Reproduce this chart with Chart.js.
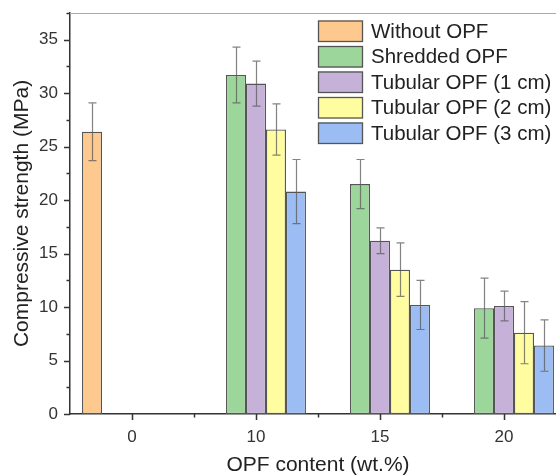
<!DOCTYPE html>
<html>
<head>
<meta charset="utf-8">
<script src="https://cdn.jsdelivr.net/npm/chart.js@4/dist/chart.umd.min.js"></script>
<style>
  html, body { margin: 0; padding: 0; background: #fff; overflow: hidden; }
  #wrap { width: 572px; height: 475px; }
</style>
</head>
<body>
<div id="wrap"><canvas id="chart" width="572" height="475"></canvas></div>
<script>
// OPF content categories
const categories = ['0', '10', '15', '20']

// compressive strength (MPa)
const withoutOPF = [26.4, null, null, null]
const shreddedOPF = [null, 31.7, 21.5, 9.9]
const tubular1cm = [null, 30.9, 16.2, 10.1]
const tubular2cm = [null, 26.6, 13.5, 7.6]
const tubular3cm = [null, 20.8, 10.2, 6.4]

// error bar half-lengths
const withoutOPFErr = [2.7, null, null, null]
const shreddedOPFErr = [null, 2.6, 2.3, 2.8]
const tubular1cmErr = [null, 2.1, 1.2, 1.4]
const tubular2cmErr = [null, 2.4, 2.5, 2.9]
const tubular3cmErr = [null, 3.0, 2.3, 2.4]

const yTicks = [0, 5, 10, 15, 20, 25, 30, 35]

const FONT = "'Liberation Sans', Arial, sans-serif"
const TEXT = '#333'
const AXIS = '#333'

function makeSet(label, data, errs, color) {
    return {
        label: label,
        data: data,
        errors: errs,
        backgroundColor: color,
        borderColor: '#555',
        borderWidth: 1.3,
        borderSkipped: false,
        categoryPercentage: 0.806,
        barPercentage: 1.0
    }
}

// error bars drawn on top of each bar
const errorBars = {
    id: 'errorBars',
    afterDatasetsDraw(chart) {
        const ctx = chart.ctx
        const y = chart.scales.y
        ctx.save()
        ctx.strokeStyle = 'rgba(90,90,90,0.75)'
        ctx.lineWidth = 1.2
        chart.data.datasets.forEach((ds, i) => {
            const meta = chart.getDatasetMeta(i)
            meta.data.forEach((bar, j) => {
                const v = ds.data[j], e = ds.errors[j]
                if (v == null || e == null) return
                const top = y.getPixelForValue(v + e)
                const bot = y.getPixelForValue(v - e)
                const x = Math.round(bar.x) + 0.5
                ctx.beginPath()
                ctx.moveTo(x, top); ctx.lineTo(x, bot)
                ctx.moveTo(x - 4, top); ctx.lineTo(x + 4, top)
                ctx.moveTo(x - 4, bot); ctx.lineTo(x + 4, bot)
                ctx.stroke()
            })
        })
        ctx.restore()
    }
}

// outward tick marks, top frame line and the legend inside the plot
const frameAndLegend = {
    id: 'frameAndLegend',
    afterDraw(chart) {
        const ctx = chart.ctx
        const { left, right, top, bottom } = chart.chartArea
        const xs = chart.scales.x, ys = chart.scales.y
        ctx.save()
        // top frame
        ctx.strokeStyle = '#aaa'
        ctx.lineWidth = 1
        ctx.beginPath()
        ctx.moveTo(left, top + 0.5); ctx.lineTo(right, top + 0.5)
        ctx.stroke()

        ctx.strokeStyle = AXIS
        ctx.lineWidth = 1.5
        ctx.beginPath()
        for (let v = 0; v <= 37.5; v += 2.5) {
            const py = Math.round(ys.getPixelForValue(v)) + 0.5
            const len = (v % 5 === 0) ? 6 : 3.5
            ctx.moveTo(left, py); ctx.lineTo(left - len, py)
        }
        const step = xs.getPixelForValue(1) - xs.getPixelForValue(0)
        categories.forEach((c, i) => {
            const px = Math.round(xs.getPixelForValue(i)) + 0.5
            ctx.moveTo(px, bottom); ctx.lineTo(px, bottom + 6)
            const mx = Math.round(xs.getPixelForValue(i) + step / 2) + 0.5
            ctx.moveTo(mx, bottom); ctx.lineTo(mx, bottom + 3.5)
        })
        ctx.stroke()

        // legend
        const lx = 318, ly = 20.5, bw = 45, bh = 21.5, pitch = 25.5
        ctx.font = '20.5px ' + FONT
        ctx.textBaseline = 'middle'
        ctx.textAlign = 'left'
        chart.data.datasets.forEach((ds, i) => {
            const by = ly + i * pitch
            ctx.fillStyle = ds.backgroundColor
            ctx.fillRect(lx, by, bw, bh)
            ctx.strokeStyle = '#555'
            ctx.lineWidth = 1.3
            ctx.strokeRect(lx + 0.5, by + 0.5, bw - 1, bh - 1)
            ctx.fillStyle = '#222'
            ctx.fillText(ds.label, lx + 53, by + bh / 2 + 1)
        })
        ctx.restore()
    }
}

const chart = new Chart(document.getElementById('chart'), {
    type: 'bar',
    data: {
        labels: categories,
        datasets: [
            makeSet('Without OPF', withoutOPF, withoutOPFErr, '#FDC98F'),
            makeSet('Shredded OPF', shreddedOPF, shreddedOPFErr, '#9CD69B'),
            makeSet('Tubular OPF (1 cm)', tubular1cm, tubular1cmErr, '#C6B2D9'),
            makeSet('Tubular OPF (2 cm)', tubular2cm, tubular2cmErr, '#FFFD9F'),
            makeSet('Tubular OPF (3 cm)', tubular3cm, tubular3cmErr, '#9BBDF4')
        ]
    },
    options: {
        responsive: false,
        animation: false,
        layout: { padding: { top: 13, right: 6, left: 0, bottom: 0 } },
        plugins: {
            legend: { display: false },
            tooltip: { enabled: false }
        },
        scales: {
            x: {
                grid: { display: false, drawTicks: false },
                border: { display: true, color: AXIS, width: 1.5 },
                ticks: { color: TEXT, font: { family: FONT, size: 17 }, padding: 13 },
                title: {
                    display: true, text: 'OPF content (wt.%)', color: '#222',
                    font: { family: FONT, size: 21, lineHeight: 0.9 }, padding: { top: 0, bottom: 0 }
                },
                afterFit(scale) {
                    scale.height = 61
                    scale.paddingLeft = 0
                    scale.paddingRight = 0
                }
            },
            y: {
                min: 0, max: 37.5,
                grid: { display: false, drawTicks: false },
                border: { display: true, color: AXIS, width: 1.5 },
                afterBuildTicks(scale) { scale.ticks = yTicks.map(v => ({ value: v })) },
                ticks: { color: TEXT, font: { family: FONT, size: 17 }, padding: 12 },
                title: {
                    display: true, text: 'Compressive strength (MPa)', color: '#222',
                    font: { family: FONT, size: 21, lineHeight: 1.2 }, padding: { top: 10, bottom: 0 }
                },
                afterFit(scale) {
                    scale.width = 70
                    scale.paddingTop = 0
                    scale.paddingBottom = 0
                }
            }
        }
    },
    plugins: [errorBars, frameAndLegend]
})
</script>
</body>
</html>
